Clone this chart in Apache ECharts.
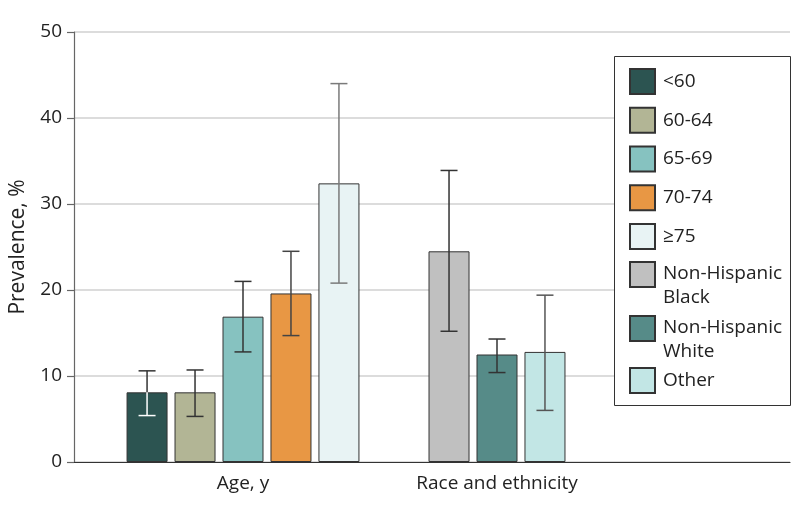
<!DOCTYPE html>
<html>
<head>
<meta charset="utf-8">
<script src="https://cdn.jsdelivr.net/npm/echarts@6/dist/echarts.min.js"></script>
<style>
  html, body { margin: 0; padding: 0; background: #fff; }
  #chart { width: 801px; height: 516px; }
</style>
</head>
<body>
<div id="chart"></div>
<script>
// ---- data ----
const categories = ['Age, y', 'Race and ethnicity'];
const ageGroups = ['<60', '60-64', '65-69', '70-74', '≥75'];
const ageValues = [8.1, 8.1, 16.9, 19.6, 32.4];
const ageLow    = [5.4, 5.3, 12.8, 14.7, 20.8];
const ageHigh   = [10.6, 10.7, 21.0, 24.5, 44.0];
const raceGroups = ['Non-Hispanic Black', 'Non-Hispanic White', 'Other'];
const raceValues = [24.5, 12.5, 12.8];
const raceLow    = [15.2, 10.4, 6.0];
const raceHigh   = [33.9, 14.3, 19.4];
const yMin = 0, yMax = 50, yInterval = 10;

// ---- styles ----
const ageColors  = ['#2c5451', '#b2b595', '#86c2c0', '#e89744', '#e8f3f4'];
const raceColors = ['#c0c0c0', '#568b88', '#c2e6e5'];
const ageErrColors  = ['#333', '#333', '#333', '#444', '#7a7a7a'];
const raceErrColors = ['#333', '#333', '#555'];
const ageInnerErr = ['#ffffff', null, null, null, null];
const raceSlots = [1, 2, 3];       // race bars occupy the middle three slots
const FONT = "'Open Sans', 'Noto Sans', sans-serif";
const BAR_W = 41, BAR_GAP = 0.17;
const PITCH = BAR_W * (1 + BAR_GAP);

const series = [];
ageGroups.forEach((name, i) => {
  series.push({
    name, type: 'bar', xAxisIndex: 1, yAxisIndex: 1, stack: 's' + i,
    barWidth: BAR_W, barGap: (BAR_GAP * 100) + '%',
    itemStyle: { color: ageColors[i], borderColor: '#333', borderWidth: 1 },
    data: [ageValues[i], '-']
  });
});
raceGroups.forEach((name, j) => {
  series.push({
    name, type: 'bar', xAxisIndex: 1, yAxisIndex: 1, stack: 's' + raceSlots[j],
    barWidth: BAR_W, barGap: (BAR_GAP * 100) + '%',
    itemStyle: { color: raceColors[j], borderColor: '#333', borderWidth: 1 },
    data: ['-', raceValues[j]]
  });
});

const errData = [];
const errColor = [];
const errInner = [];
ageGroups.forEach((n, i) => {
  errData.push([0, ageLow[i], ageHigh[i], i, ageValues[i]]);
  errColor.push(ageErrColors[i]); errInner.push(ageInnerErr[i]);
});
raceGroups.forEach((n, j) => {
  errData.push([1, raceLow[j], raceHigh[j], raceSlots[j], raceValues[j]]);
  errColor.push(raceErrColors[j]); errInner.push(null);
});

series.push({
  type: 'custom', xAxisIndex: 1, yAxisIndex: 1, z: 5, silent: true,
  data: errData,
  renderItem: function (params, api) {
    const idx = params.dataIndex;
    const cx = api.coord([api.value(0), 0])[0] + (api.value(3) - 2) * PITCH;
    const yLow = api.coord([api.value(0), api.value(1)])[1];
    const yHigh = api.coord([api.value(0), api.value(2)])[1];
    const yVal = api.coord([api.value(0), api.value(4)])[1];
    const inner = errInner[idx];
    const dark = errColor[idx];
    const hw = 8.5;
    const st = (c) => ({ stroke: c, lineWidth: 1.5, fill: null });
    const children = [];
    if (inner) {
      children.push({ type: 'line', shape: { x1: cx, y1: yHigh, x2: cx, y2: yVal }, style: st(dark) });
      children.push({ type: 'line', shape: { x1: cx, y1: yVal, x2: cx, y2: yLow }, style: st(inner) });
      children.push({ type: 'line', shape: { x1: cx - hw, y1: yHigh, x2: cx + hw, y2: yHigh }, style: st(dark) });
      children.push({ type: 'line', shape: { x1: cx - hw, y1: yLow, x2: cx + hw, y2: yLow }, style: st(inner) });
    } else {
      children.push({ type: 'line', shape: { x1: cx, y1: yHigh, x2: cx, y2: yLow }, style: st(dark) });
      children.push({ type: 'line', shape: { x1: cx - hw, y1: yHigh, x2: cx + hw, y2: yHigh }, style: st(dark) });
      children.push({ type: 'line', shape: { x1: cx - hw, y1: yLow, x2: cx + hw, y2: yLow }, style: st(dark) });
    }
    return { type: 'group', children };
  }
});

// ---- legend (one box, items placed as in the reference) ----
const LEG_FS = 19;
const baseLegend = {
  orient: 'vertical', left: 629, padding: 0,
  itemWidth: 25, itemHeight: 25, itemGap: 11.75,
  icon: 'rect', selectedMode: false, z: 6,
  textStyle: { fontSize: LEG_FS, color: '#222', fontFamily: FONT, lineHeight: 25, padding: [0, 0, 0, 3] }
};
const twoLineText = {
  fontSize: LEG_FS, color: '#222', fontFamily: FONT, padding: [0, 0, 0, 3],
  rich: {
    a: { fontSize: LEG_FS, color: '#222', fontFamily: FONT, lineHeight: 46 },
    b: { fontSize: LEG_FS, color: '#222', fontFamily: FONT, lineHeight: 1 }
  }
};
const twoLineFormatter = (n) => {
  const parts = n.split(' ');
  return '{a|' + parts[0] + '}\n{b|' + parts.slice(1).join(' ') + '}';
};
const legends = [
  Object.assign({}, baseLegend, { top: 68, data: ageGroups }),
  Object.assign({}, baseLegend, { top: 261, data: [raceGroups[0]], textStyle: twoLineText, formatter: twoLineFormatter }),
  Object.assign({}, baseLegend, { top: 315, data: [raceGroups[1]], textStyle: twoLineText, formatter: twoLineFormatter }),
  Object.assign({}, baseLegend, { top: 367, data: [raceGroups[2]] })
];

const option = {
  animation: false,
  textStyle: { fontFamily: FONT },
  grid: [
    { left: 70, right: 11, top: 32, bottom: 54 },
    { left: 116, right: 177, top: 32, bottom: 54 }
  ],
  xAxis: [
    { gridIndex: 0, type: 'value', min: 0, max: 1,
      axisLine: { show: true, lineStyle: { color: '#333', width: 1.2 } },
      axisTick: { show: false }, axisLabel: { show: false }, splitLine: { show: false } },
    { gridIndex: 1, type: 'category', data: categories,
      axisLine: { show: false }, axisTick: { show: false },
      axisLabel: { fontSize: 19, color: '#222', margin: 12, fontFamily: FONT } }
  ],
  yAxis: [
    { gridIndex: 0, type: 'value', min: yMin, max: yMax, interval: yInterval,
      name: 'Prevalence, %', nameLocation: 'middle', nameGap: 45, nameRotate: 90,
      nameTextStyle: { fontSize: 21, color: '#222', fontFamily: FONT },
      axisLine: { show: true, lineStyle: { color: '#666', width: 1.2 } },
      axisTick: { show: true, length: 7, lineStyle: { color: '#666', width: 1.2 } },
      axisLabel: { fontSize: 19, color: '#222', margin: 12, fontFamily: FONT },
      splitLine: { show: true, lineStyle: { color: '#dcdcdc', width: 2 } } },
    { gridIndex: 1, type: 'value', min: yMin, max: yMax, interval: yInterval, show: false,
      splitLine: { show: false } }
  ],
  graphic: [{
    type: 'rect', z: 3, silent: true,
    shape: { x: 614.5, y: 56.5, width: 176, height: 349 },
    style: { fill: '#fff', stroke: '#333', lineWidth: 1 }
  }],
  legend: legends,
  series
};

const chart = echarts.init(document.getElementById('chart'), null, { renderer: 'canvas' });
chart.setOption(option);
</script>
</body>
</html>
